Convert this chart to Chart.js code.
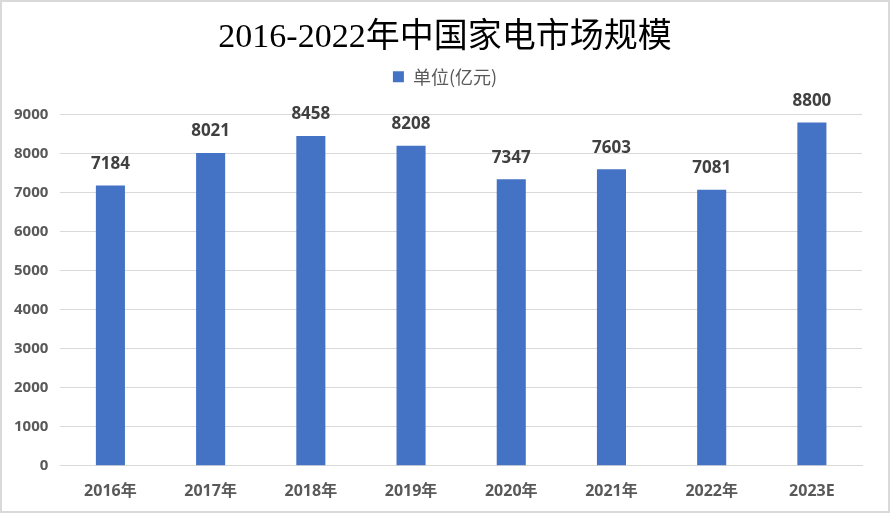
<!DOCTYPE html>
<html>
<head>
<meta charset="utf-8">
<script src="https://cdn.jsdelivr.net/npm/chart.js@4"></script>
<style>
  html, body { margin: 0; padding: 0; background: #fff; }
  #wrap { position: relative; width: 886px; height: 509px; border: 2px solid #d9d9d9; }
</style>
</head>
<body>
<div id="wrap"><canvas id="grafico"></canvas></div>
<script>
// Datos del gráfico
const categorias = ["2016年", "2017年", "2018年", "2019年", "2020年", "2021年", "2022年", "2023E"];
const valores = [7184, 8021, 8458, 8208, 7347, 7603, 7081, 8800];
const etiquetaSerie = "单位(亿元)";
const titulo = "2016-2022年中国家电市场规模";

// Etiquetas encima de cada barra
const etiquetasBarras = {
    id: "etiquetasBarras",
    afterDatasetsDraw(chart) {
        const ctx = chart.ctx;
        const meta = chart.getDatasetMeta(0);
        ctx.save();
        ctx.font = "bold 17px 'Open Sans', 'Noto Sans', sans-serif";
        ctx.fillStyle = "#404040";
        ctx.textAlign = "center";
        ctx.textBaseline = "bottom";
        meta.data.forEach((bar, i) => {
            ctx.fillText(String(chart.data.datasets[0].data[i]), bar.x, bar.y - 13);
        });
        ctx.restore();
    }
};

// Espacio extra bajo la leyenda y título centrado en todo el ancho
const ajustesLayout = {
    id: "ajustesLayout",
    beforeInit(chart) {
        const fitOriginal = chart.legend.fit;
        chart.legend.fit = function () {
            fitOriginal.bind(chart.legend)();
            this.height += 19;
        };
    },
    afterLayout(chart) {
        chart.titleBlock.left = 0;
        chart.titleBlock.right = chart.width;
        chart.legend.left = 0;
        chart.legend.right = chart.width;
    }
};

new Chart(document.getElementById("grafico").getContext("2d"), {
    type: "bar",
    data: {
        labels: categorias,
        datasets: [{
            label: etiquetaSerie,
            data: valores,
            backgroundColor: "#4472C4",
            categoryPercentage: 1,
            barPercentage: 0.29
        }]
    },
    options: {
        responsive: true,
        maintainAspectRatio: false,
        animation: false,
        layout: { padding: { left: 0, right: 26, top: 16, bottom: -6 } },
        plugins: {
            title: {
                display: true,
                text: titulo,
                color: "#000",
                font: { family: "'Liberation Serif', 'Noto Sans CJK SC', serif", size: 34, weight: "normal" },
                padding: { top: 0, bottom: 0 }
            },
            legend: {
                display: true,
                labels: {
                    boxWidth: 11,
                    boxHeight: 11,
                    color: "#595959",
                    font: { family: "'Noto Sans CJK SC', sans-serif", size: 18 },
                    padding: 9
                }
            },
            tooltip: { enabled: false }
        },
        scales: {
            x: {
                grid: { display: false, drawTicks: false },
                border: { color: "#d9d9d9" },
                ticks: {
                    color: "#595959",
                    font: { family: "'Open Sans', 'Noto Sans CJK SC', sans-serif", size: 16, weight: "bold" },
                    padding: 16
                }
            },
            y: {
                min: 0,
                max: 9000,
                grid: { color: "#d9d9d9", drawTicks: false },
                border: { display: false },
                ticks: {
                    stepSize: 1000,
                    color: "#595959",
                    font: { family: "'Open Sans', sans-serif", size: 15, weight: "bold" },
                    padding: 12,
                    callback: (valor) => String(valor)
                }
            }
        }
    },
    plugins: [etiquetasBarras, ajustesLayout]
});
</script>
</body>
</html>
